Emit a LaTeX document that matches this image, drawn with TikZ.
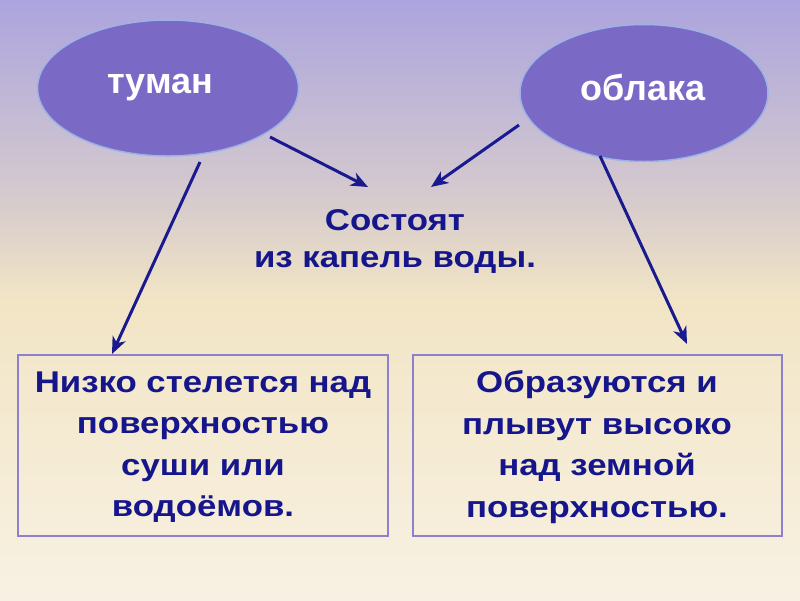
\documentclass[tikz,border=0pt]{standalone}
\usepackage{fontspec}
\setmainfont{Liberation Sans}
\newfontfamily\widefont[FakeStretch=1.16]{Liberation Sans}
\usetikzlibrary{shapes.geometric,arrows.meta}
\definecolor{bgtop}{HTML}{ACA4DE}
\definecolor{bgq}{HTML}{D6CBCD}
\definecolor{bgmid}{HTML}{F2E5C5}
\definecolor{bgbot}{HTML}{F8F1E3}
\definecolor{ellfill}{HTML}{7B69C6}
\definecolor{elledge}{HTML}{9DB3E6}
\definecolor{navy}{HTML}{16168C}
\definecolor{arrowc}{HTML}{1A1A90}
\definecolor{boxedge}{HTML}{8E7FD0}
\tikzset{
  cloud/.style={ellipse, fill=ellfill, draw=elledge, line width=1.5pt, inner sep=0pt},
  cloudtext/.style={text=white, font=\bfseries\fontsize{36}{40}\selectfont, inner sep=0pt, anchor=base},
  maintext/.style={text=navy, font=\widefont\bfseries\fontsize{30}{37}\selectfont, align=center, inner sep=0pt},
  boxtext/.style={text=navy, font=\widefont\bfseries\fontsize{30}{41.5}\selectfont, align=center, inner sep=0pt},
  infobox/.style={draw=boxedge, line width=1.5pt, inner sep=0pt},
  conn/.style={draw=arrowc, line width=3pt, -{Stealth[length=17pt,width=14pt,inset=5pt]}}
}
\begin{document}
\begin{tikzpicture}[x=1pt,y=-1pt]
\shade[top color=bgtop, bottom color=bgq] (0,0) rectangle (800,200.5);
\shade[top color=bgq, bottom color=bgmid] (0,200) rectangle (800,300.5);
\shade[top color=bgmid, bottom color=bgbot] (0,300) rectangle (800,600);
\useasboundingbox (0,0) rectangle (800,600);
% ellipses
\node[cloud, minimum width=261pt, minimum height=136pt] (fogE) at (168,88) {};
\node[cloudtext] (fog) at (160,93) {туман};
\node[cloud, minimum width=248pt, minimum height=137pt] (cloudE) at (644,93) {};
\node[cloudtext] (clouds) at (643,100) {облака};
% center text
\node[maintext] (mid) at (395,242) {Состоят\\из капель воды.};
% boxes
\node[infobox, minimum width=370pt, minimum height=181pt] (boxL) at (203,445.5) {};
\node[boxtext] (txtL) at (203,447) {Низко стелется над\\поверхностью\\суши или\\водоёмов.};
\node[infobox, minimum width=369pt, minimum height=181pt] (boxR) at (597.5,445.5) {};
\node[boxtext] (txtR) at (597,447) {Образуются и\\плывут высоко\\над земной\\поверхностью.};
% arrow ends
\coordinate (a1s) at (270,137);
\coordinate (a1e) at (368,187);
\coordinate (a2s) at (519,125);
\coordinate (a2e) at (431,187);
\coordinate (a3s) at (200,162);
\coordinate (a3e) at (112,354);
\coordinate (a4s) at (600,156);
\coordinate (a4e) at (687,344);
\draw[conn] (a1s) -- (a1e);
\draw[conn] (a2s) -- (a2e);
\draw[conn] (a3s) -- (a3e);
\draw[conn] (a4s) -- (a4e);
\end{tikzpicture}
\end{document}
